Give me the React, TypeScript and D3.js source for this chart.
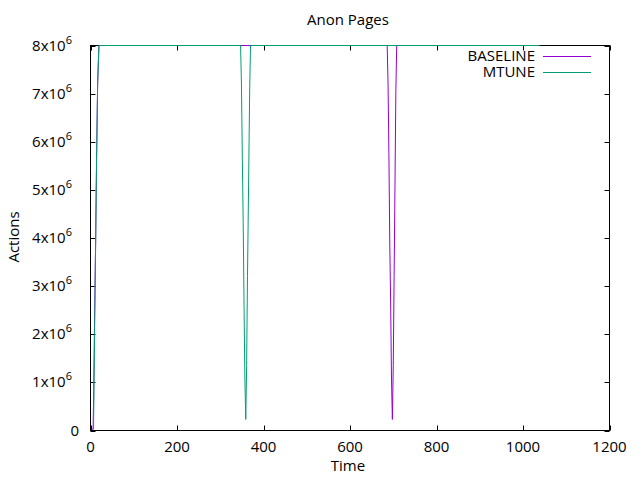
import React from "react"
import * as d3 from "d3"

// time (s) and page counts; values above 8x10^6 are clipped to the top
const baselineTime = [3, 6, 7.5, 9.5, 12, 14, 16.5, 19.5, 686, 688, 690, 692, 694, 696, 698, 700, 702, 704, 706, 708, 1036];
const baselineValue = [20000, 30000, 830000, 2400000, 4000000, 5600000, 7200000, 8000000, 8000000, 7200000, 5700000, 3850000, 2650000, 1050000, 230000, 1350000, 3200000, 5100000, 7050000, 8000000, 8000000];

const mtuneTime = [7, 8, 10, 12, 14, 16.5, 19.5, 347, 349, 351, 353, 355, 357, 359, 361, 363, 365.5, 368, 370, 1038];
const mtuneValue = [20000, 830000, 2400000, 4000000, 5600000, 7200000, 8000000, 8000000, 7200000, 5700000, 4350000, 2600000, 1050000, 230000, 1350000, 3200000, 5100000, 7050000, 8000000, 8000000];

const xTicks = [0, 200, 400, 600, 800, 1000, 1200];
const yTicks = [0, 1, 2, 3, 4, 5, 6, 7, 8];

const series = [
	{ name: "BASELINE", time: baselineTime, value: baselineValue, color: "#9400d3" },
	{ name: "MTUNE", time: mtuneTime, value: mtuneValue, color: "#009e73" }
];

const WIDTH = 640, HEIGHT = 480;
const plot = { left: 90.5, right: 609.5, top: 45.5, bottom: 430.5 };
const FONT = "'Open Sans', sans-serif";
const TICK = 5;

export default function App() {
	const x = d3.scaleLinear().domain([0, 1200]).range([plot.left, plot.right]);
	const y = d3.scaleLinear().domain([0, 8000000]).range([plot.bottom, plot.top]);

	const line = d3.line<[number, number]>()
		.x(d => x(d[0]))
		.y(d => y(d[1]));

	return (
		<svg width={WIDTH} height={HEIGHT} style={{ position: "absolute", left: 0, top: 0, background: "#fff" }}
			fontFamily={FONT} fontSize={15}>
			<rect width={WIDTH} height={HEIGHT} fill="#fff" />
			<defs>
				<clipPath id="plot-clip">
					<rect x={plot.left - 1} y={plot.top - 1} width={plot.right - plot.left + 2} height={plot.bottom - plot.top + 2} />
				</clipPath>
			</defs>

			<text x={348} y={25} textAnchor="middle">Anon Pages</text>

			{/* ticks, mirrored on all four sides like gnuplot */}
			<g stroke="#000" strokeWidth={1}>
				{yTicks.map(t => (
					<g key={"yt" + t}>
						<line x1={plot.left} x2={plot.left + TICK} y1={Math.round(y(t * 1e6)) + 0.5} y2={Math.round(y(t * 1e6)) + 0.5} />
						<line x1={plot.right} x2={plot.right - TICK} y1={Math.round(y(t * 1e6)) + 0.5} y2={Math.round(y(t * 1e6)) + 0.5} />
					</g>
				))}
				{xTicks.map(t => (
					<g key={"xt" + t}>
						<line x1={Math.round(x(t)) + 0.5} x2={Math.round(x(t)) + 0.5} y1={plot.bottom} y2={plot.bottom - TICK} />
						<line x1={Math.round(x(t)) + 0.5} x2={Math.round(x(t)) + 0.5} y1={plot.top} y2={plot.top + TICK} />
					</g>
				))}
				<rect x={plot.left} y={plot.top} width={plot.right - plot.left} height={plot.bottom - plot.top} fill="none" />
			</g>

			{yTicks.map(t => (
				<text key={"yl" + t} x={t === 0 ? 79 : 72} y={y(t * 1e6) + 5} textAnchor="end">
					{t === 0 ? "0" : t + "x10"}
					{t !== 0 && <tspan dy={-7} fontSize={11}>6</tspan>}
				</text>
			))}
			{xTicks.map(t => (
				<text key={"xl" + t} x={x(t)} y={452} textAnchor="middle">{t}</text>
			))}

			<text x={348} y={471} textAnchor="middle">Time</text>
			<text transform="translate(19,237) rotate(-90)" textAnchor="middle">Actions</text>

			<g clipPath="url(#plot-clip)" fill="none" strokeWidth={1}>
				{series.map(s => (
					<path key={s.name} d={line(s.time.map((t, i) => [t, s.value[i]] as [number, number])) || ""} stroke={s.color} />
				))}
			</g>

			{series.map((s, i) => (
				<g key={"lg" + s.name}>
					<text x={535} y={61 + i * 16} textAnchor="end">{s.name}</text>
					<line x1={543} x2={591} y1={56.5 + i * 16} y2={56.5 + i * 16} stroke={s.color} strokeWidth={1} />
				</g>
			))}
		</svg>
	)
}
